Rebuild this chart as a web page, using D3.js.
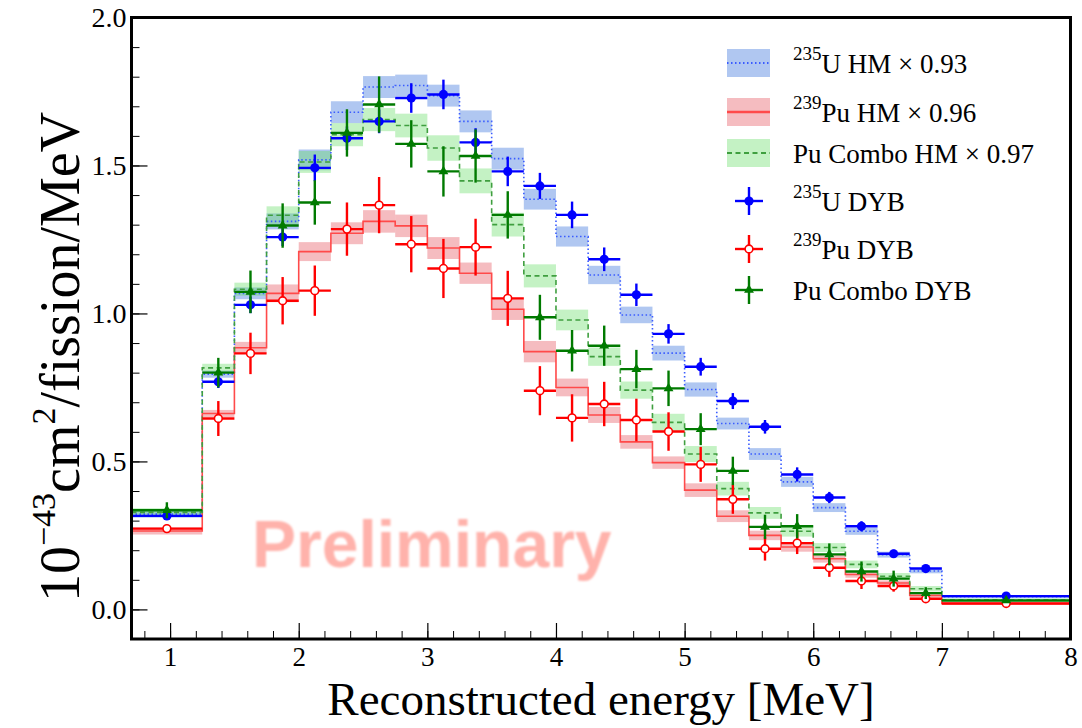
<!DOCTYPE html>
<html>
<head>
<meta charset="utf-8">
<script src="https://cdn.jsdelivr.net/npm/d3@7"></script>
<style>
  body { margin: 0; background: #fff; }
  text { font-family: "Liberation Serif", "Times New Roman", serif; }
</style>
</head>
<body>
<svg id="chart" width="1082" height="728"></svg>
<script>
// Reconstructed-energy bin edges [MeV]
const binEdges = [0.7, 1.25, 1.5, 1.75, 2.0, 2.25, 2.5, 2.75, 3.0, 3.25, 3.5, 3.75, 4.0,
  4.25, 4.5, 4.75, 5.0, 5.25, 5.5, 5.75, 6.0, 6.25, 6.5, 6.75, 7.0, 8.0];

// Huber-Mueller predictions (scaled) and their uncertainty half-widths
const u235HM = [0.322, 0.795, 1.068, 1.311, 1.519, 1.680, 1.765, 1.770, 1.736, 1.649, 1.523, 1.386,
  1.260, 1.130, 0.995, 0.866, 0.743, 0.628, 0.525, 0.431, 0.344, 0.264, 0.185, 0.130, 0.043];
const u235Band = [0.012, 0.012, 0.020, 0.027, 0.035, 0.037, 0.037, 0.037, 0.037, 0.037, 0.037, 0.035,
  0.034, 0.031, 0.028, 0.025, 0.024, 0.020, 0.020, 0.017, 0.015, 0.012, 0.010, 0.008, 0.005];

const pu239HM = [0.265, 0.662, 0.884, 1.068, 1.209, 1.271, 1.311, 1.296, 1.221, 1.136, 1.014, 0.871,
  0.750, 0.657, 0.566, 0.496, 0.403, 0.315, 0.250, 0.211, 0.171, 0.118, 0.089, 0.047, 0.020];
const pu239Band = [0.012, 0.012, 0.020, 0.030, 0.032, 0.037, 0.038, 0.038, 0.037, 0.036, 0.036, 0.036,
  0.030, 0.027, 0.023, 0.021, 0.023, 0.020, 0.016, 0.016, 0.013, 0.011, 0.009, 0.007, 0.005];

const puComboHM = [0.328, 0.816, 1.082, 1.332, 1.512, 1.604, 1.655, 1.635, 1.559, 1.448, 1.300, 1.127,
  0.978, 0.854, 0.741, 0.632, 0.525, 0.408, 0.326, 0.264, 0.209, 0.152, 0.112, 0.070, 0.032];
const puComboBand = [0.014, 0.014, 0.022, 0.030, 0.037, 0.039, 0.039, 0.040, 0.043, 0.042, 0.040, 0.039,
  0.035, 0.031, 0.029, 0.029, 0.027, 0.023, 0.020, 0.018, 0.015, 0.013, 0.011, 0.009, 0.005];

// Daya Bay measured spectra and their errors
const u235DYB = [0.316, 0.769, 1.029, 1.258, 1.492, 1.592, 1.649, 1.728, 1.740, 1.578, 1.480, 1.431,
  1.333, 1.183, 1.063, 0.931, 0.820, 0.704, 0.617, 0.456, 0.378, 0.281, 0.188, 0.138, 0.045];
const u235Err = [0.012, 0.021, 0.028, 0.030, 0.045, 0.040, 0.040, 0.050, 0.050, 0.048, 0.050, 0.044,
  0.045, 0.040, 0.038, 0.033, 0.030, 0.027, 0.023, 0.024, 0.019, 0.017, 0.014, 0.012, 0.006];

const pu239DYB = [0.273, 0.645, 0.865, 1.043, 1.077, 1.285, 1.366, 1.234, 1.152, 1.224, 1.051, 0.739,
  0.647, 0.694, 0.640, 0.601, 0.490, 0.372, 0.205, 0.224, 0.141, 0.096, 0.079, 0.036, 0.020];
const pu239Err = [0.014, 0.059, 0.070, 0.080, 0.085, 0.090, 0.095, 0.095, 0.100, 0.096, 0.093, 0.083,
  0.080, 0.075, 0.072, 0.065, 0.059, 0.049, 0.040, 0.037, 0.031, 0.027, 0.019, 0.014, 0.006];

const puComboDYB = [0.335, 0.800, 1.073, 1.297, 1.375, 1.610, 1.706, 1.573, 1.480, 1.532, 1.333, 0.987,
  0.874, 0.891, 0.812, 0.747, 0.609, 0.468, 0.279, 0.281, 0.186, 0.128, 0.104, 0.055, 0.030];
const puComboErr = [0.027, 0.050, 0.072, 0.075, 0.075, 0.080, 0.095, 0.080, 0.085, 0.090, 0.080, 0.076,
  0.070, 0.068, 0.065, 0.060, 0.054, 0.048, 0.041, 0.041, 0.037, 0.034, 0.027, 0.020, 0.007];

// Axis ticks
const xMajorTicks = [1, 2, 3, 4, 5, 6, 7, 8];
const yMajorTicks = [0, 0.5, 1.0, 1.5, 2.0];

const svg = d3.select("#chart");
const plot = { left: 131.5, right: 1070.5, top: 17.5, bottom: 639 };

const x = d3.scaleLinear().domain([0.7, 8]).range([plot.left, plot.right]);
const y = d3.scaleLinear().domain([-0.1, 2.0]).range([plot.bottom, plot.top]);

const bins = d3.range(binEdges.length - 1).map(i => ({ lo: binEdges[i], hi: binEdges[i + 1] }));

// ---- prediction bands ----
const predictions = [
  { vals: u235HM, band: u235Band, fill: "rgba(80,130,225,0.45)", stroke: "#3a5cff", dash: "1.5,2.5", width: 1.6 },
  { vals: pu239HM, band: pu239Band, fill: "rgba(230,80,90,0.38)", stroke: "#ff4a4a", dash: null, width: 1.6 },
  { vals: puComboHM, band: puComboBand, fill: "rgba(100,220,100,0.38)", stroke: "#3f9f3f", dash: "5,3.5", width: 1.6 }
];

const gBands = svg.append("g");
predictions.forEach(p => {
  gBands.append("g").selectAll("rect").data(bins).join("rect")
    .attr("x", d => x(d.lo))
    .attr("width", d => x(d.hi) - x(d.lo))
    .attr("y", (d, i) => y(p.vals[i] + p.band[i]))
    .attr("height", (d, i) => y(p.vals[i] - p.band[i]) - y(p.vals[i] + p.band[i]))
    .attr("fill", p.fill);
});

// ---- prediction step lines ----
const stepLine = d3.line().x(d => x(d[0])).y(d => y(d[1])).curve(d3.curveStepAfter);
predictions.forEach(p => {
  const pts = bins.map((b, i) => [b.lo, p.vals[i]]);
  pts.push([binEdges[binEdges.length - 1], p.vals[p.vals.length - 1]]);
  svg.append("path").datum(pts)
    .attr("d", stepLine)
    .attr("fill", "none")
    .attr("stroke", p.stroke)
    .attr("stroke-width", p.width)
    .attr("stroke-dasharray", p.dash);
});

// ---- watermark ----
const defs = svg.append("defs");
defs.append("filter").attr("id", "soft")
  .append("feGaussianBlur").attr("stdDeviation", 0.9);
svg.append("text")
  .attr("x", 252).attr("y", 567)
  .attr("fill", "#ffb2ab")
  .attr("filter", "url(#soft)")
  .style("font-family", "'Liberation Sans', Arial, sans-serif")
  .style("font-weight", "bold")
  .style("font-size", "66px")
  .text("Preliminary");

// ---- measured points ----
const measured = [
  { vals: u235DYB, err: u235Err, color: "#0000ff", marker: "dot" },
  { vals: pu239DYB, err: pu239Err, color: "#ff0000", marker: "open" },
  { vals: puComboDYB, err: puComboErr, color: "#007a00", marker: "tri" }
];

function drawMarker(g, kind, color, cx, cy) {
  if (kind === "dot") {
    g.append("circle").attr("cx", cx).attr("cy", cy).attr("r", 4.6).attr("fill", color);
  } else if (kind === "open") {
    g.append("circle").attr("cx", cx).attr("cy", cy).attr("r", 3.9)
      .attr("fill", "#fff").attr("stroke", color).attr("stroke-width", 1.6);
  } else {
    g.append("path").attr("d", d3.symbol(d3.symbolTriangle, 42)())
      .attr("transform", `translate(${cx},${cy})`).attr("fill", color);
  }
}

measured.forEach(m => {
  const g = svg.append("g");
  bins.forEach((b, i) => {
    const cx = x((b.lo + b.hi) / 2), cy = y(m.vals[i]);
    g.append("line").attr("x1", x(b.lo)).attr("x2", x(b.hi)).attr("y1", cy).attr("y2", cy)
      .attr("stroke", m.color).attr("stroke-width", 2.4);
    g.append("line").attr("x1", cx).attr("x2", cx)
      .attr("y1", y(m.vals[i] + m.err[i])).attr("y2", y(m.vals[i] - m.err[i]))
      .attr("stroke", m.color).attr("stroke-width", 2.4);
    drawMarker(g, m.marker, m.color, cx, cy);
  });
});

// ---- axes ----
const xMinor = d3.range(0.8, 8.0001, 0.2).map(v => +v.toFixed(1));
const yMinor = d3.range(-0.1, 2.0001, 0.1).map(v => +v.toFixed(1));

svg.append("g").attr("transform", `translate(0,${plot.bottom})`)
  .call(d3.axisBottom(x).tickValues(xMinor).tickSize(-8).tickFormat(""))
  .call(g => g.select(".domain").remove())
  .call(g => g.selectAll("line").attr("stroke", "#000").attr("stroke-width", 1));

svg.append("g").attr("transform", `translate(0,${plot.bottom})`)
  .call(d3.axisBottom(x).tickValues(xMajorTicks).tickSize(-16).tickPadding(6).tickFormat(d3.format("d")))
  .call(g => g.select(".domain").remove())
  .call(g => g.selectAll("line").attr("stroke", "#000").attr("stroke-width", 1.2))
  .call(g => g.selectAll("text").attr("fill", "#000").attr("dy", "0.78em")
    .style("font-family", "'Liberation Serif', serif").style("font-size", "27px"));

svg.append("g").attr("transform", `translate(${plot.left},0)`)
  .call(d3.axisLeft(y).tickValues(yMinor).tickSize(-8).tickFormat(""))
  .call(g => g.select(".domain").remove())
  .call(g => g.selectAll("line").attr("stroke", "#000").attr("stroke-width", 1));

svg.append("g").attr("transform", `translate(${plot.left},0)`)
  .call(d3.axisLeft(y).tickValues(yMajorTicks).tickSize(-16).tickPadding(5).tickFormat(d3.format(".1f")))
  .call(g => g.select(".domain").remove())
  .call(g => g.selectAll("line").attr("stroke", "#000").attr("stroke-width", 1.2))
  .call(g => g.selectAll("text").attr("fill", "#000")
    .style("font-family", "'Liberation Serif', serif").style("font-size", "28px"));

// frame
svg.append("rect")
  .attr("x", plot.left).attr("y", plot.top)
  .attr("width", plot.right - plot.left).attr("height", plot.bottom - plot.top)
  .attr("fill", "none").attr("stroke", "#000").attr("stroke-width", 3);

// ---- rich text helper (superscripts) ----
function richText(sel, parts, size, supSize, raise) {
  let shifted = false;
  parts.forEach(p => {
    const t = sel.append("tspan").text(p.t);
    if (p.sup) {
      t.attr("dy", -raise).style("font-size", supSize + "px");
      shifted = true;
    } else {
      if (shifted) { t.attr("dy", raise); shifted = false; }
      t.style("font-size", size + "px");
    }
  });
}

// axis titles
svg.append("text")
  .attr("x", 601).attr("y", 715)
  .attr("text-anchor", "middle")
  .style("font-size", "47px")
  .text("Reconstructed energy [MeV]");

const yTitle = svg.append("text")
  .attr("transform", "translate(79,357) rotate(-90)")
  .attr("text-anchor", "middle");
richText(yTitle, [
  { t: "10" }, { t: "\u221243", sup: true }, { t: "cm" }, { t: "2", sup: true }, { t: "/fission/MeV" }
], 56, 34, 24);

// ---- legend ----
const legendLabels = [
  [{ t: "235", sup: true }, { t: "U HM \u00d7 0.93" }],
  [{ t: "239", sup: true }, { t: "Pu HM \u00d7 0.96" }],
  [{ t: "Pu Combo HM \u00d7 0.97" }],
  [{ t: "235", sup: true }, { t: "U DYB" }],
  [{ t: "239", sup: true }, { t: "Pu DYB" }],
  [{ t: "Pu Combo DYB" }]
];
const legendRowY = [63, 112, 153, 201, 249, 290];

const lg = svg.append("g");
predictions.forEach((p, i) => {
  const cy = legendRowY[i];
  lg.append("rect").attr("x", 727).attr("y", cy - 14).attr("width", 43).attr("height", 28).attr("fill", p.fill);
  lg.append("line").attr("x1", 727).attr("x2", 770).attr("y1", cy).attr("y2", cy)
    .attr("stroke", p.stroke).attr("stroke-width", i === 1 ? 2.4 : 1.8).attr("stroke-dasharray", p.dash);
});
measured.forEach((m, i) => {
  const cy = legendRowY[3 + i], cx = 749;
  lg.append("line").attr("x1", cx - 14).attr("x2", cx + 14).attr("y1", cy).attr("y2", cy)
    .attr("stroke", m.color).attr("stroke-width", 2.4);
  lg.append("line").attr("x1", cx).attr("x2", cx).attr("y1", cy - 14).attr("y2", cy + 14)
    .attr("stroke", m.color).attr("stroke-width", 2.4);
  drawMarker(lg, m.marker, m.color, cx, cy);
});
legendLabels.forEach((parts, i) => {
  const t = lg.append("text").attr("x", 793).attr("y", legendRowY[i] + 10).attr("fill", "#000");
  richText(t, parts, 27, 19, 13);
});
</script>
</body>
</html>
